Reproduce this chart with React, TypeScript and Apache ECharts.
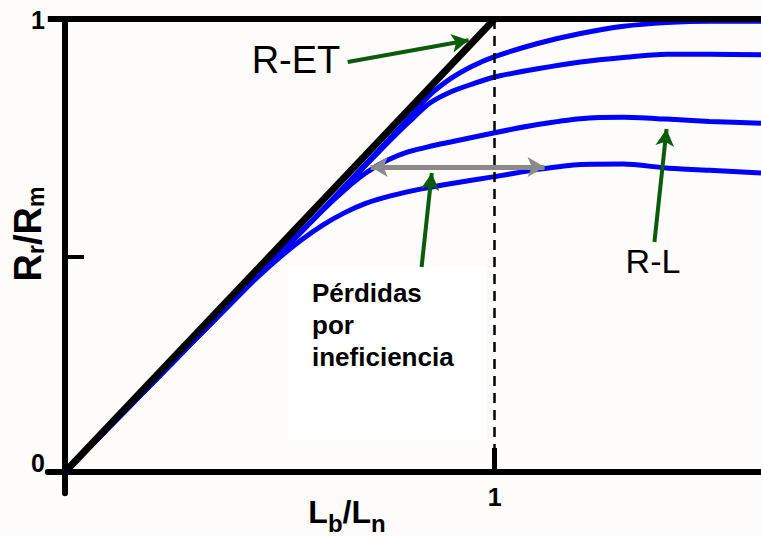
import { useEffect, useRef } from 'react';
import * as echarts from 'echarts';

const FONT = '"Liberation Sans", Arial, Helvetica, sans-serif';

// Axis extents (L_b/L_n on x, R_r/R_m on y)
const X_MIN = -0.04;
const X_MAX = 1.62;
const Y_MIN = -0.047;
const Y_MAX = 1;

// Tick positions and tick labels
const xTickValues = [1];
const xLabels: [number, string][] = [[1, '1']];
const yTickValues = [0.475];
const yLabels: [number, string][] = [[0, '0'], [1, '1']];

// R-ET: ideal response, rises linearly to 1 at L_b/L_n = 1
const retCurve: [number, number][] = [
  [0, 0],
  [1, 1],
];

// R-L curves, from highest to lowest
const rl1: [number, number][] = [
  [0, 0], [0.1, 0.0965], [0.2, 0.193], [0.3, 0.2895], [0.4, 0.386], [0.5, 0.4825],
  [0.6, 0.579], [0.7, 0.68], [0.75, 0.73], [0.8, 0.781], [0.85, 0.833], [0.9, 0.87],
  [0.95, 0.897], [1.0, 0.917], [1.1, 0.946], [1.2, 0.968], [1.3, 0.984], [1.4, 0.992],
  [1.5, 0.995], [1.62, 0.995],
];
const rl2: [number, number][] = [
  [0, 0], [0.1, 0.0965], [0.2, 0.193], [0.3, 0.2895], [0.4, 0.386], [0.5, 0.4825],
  [0.6, 0.579], [0.7, 0.677], [0.75, 0.726], [0.8, 0.772], [0.85, 0.815], [0.9, 0.84],
  [0.95, 0.857], [1.0, 0.872], [1.1, 0.89], [1.2, 0.905], [1.3, 0.915], [1.4, 0.922],
  [1.5, 0.922], [1.62, 0.921],
];
const rl3: [number, number][] = [
  [0, 0], [0.1, 0.0965], [0.2, 0.193], [0.3, 0.2895], [0.4, 0.386], [0.5, 0.482],
  [0.6, 0.578], [0.65, 0.622], [0.7, 0.66], [0.75, 0.688], [0.8, 0.707], [0.85, 0.719],
  [0.9, 0.729], [1.0, 0.749], [1.1, 0.767], [1.2, 0.78], [1.3, 0.783], [1.4, 0.779],
  [1.5, 0.774], [1.62, 0.77],
];
const rl4: [number, number][] = [
  [0, 0], [0.1, 0.0965], [0.2, 0.193], [0.3, 0.29], [0.4, 0.386], [0.45, 0.432],
  [0.5, 0.474], [0.55, 0.512], [0.6, 0.545], [0.65, 0.572], [0.7, 0.593], [0.76, 0.61],
  [0.83, 0.625], [0.9, 0.637], [1.0, 0.652], [1.1, 0.668], [1.2, 0.679], [1.3, 0.68],
  [1.4, 0.671], [1.5, 0.666], [1.62, 0.66],
];
const rlCurves = [rl1, rl2, rl3, rl4];

// Annotation arrows: [from, to] in data units
const arrowRET: [number, number][] = [[0.658, 0.905], [0.9395, 0.953]];
const arrowLoss: [number, number][] = [[0.83, 0.4525], [0.8537, 0.66]];
const arrowRL: [number, number][] = [[1.372, 0.5077], [1.4002, 0.757]];
const lossSpan: [number, number][] = [[0.7116, 0.6733], [1.1163, 0.6733]];

const GREEN = '#0a5c0a';
const GRAY = '#8a8a8a';
const BLUE = '#0000ff';

const App = () => {
  const ref = useRef<HTMLDivElement>(null);

  useEffect(() => {
    if (!ref.current) return;
    const chart = echarts.init(ref.current, null, { renderer: 'svg' });

    const greenArrow = (seg: [number, number][]) => [
      { coord: seg[0], symbol: 'none', lineStyle: { color: GREEN, width: 4, type: 'solid' } },
      { coord: seg[1], symbol: 'arrow', symbolSize: [14, 17] },
    ];

    const staticGraphic: any[] = [
      {
        id: 'box',
        type: 'rect',
        silent: true,
        z: 0,
        shape: { x: 288, y: 266, width: 199, height: 174 },
        style: { fill: '#ffffff' },
      },
      {
        id: 'ret',
        type: 'text',
        x: 296,
        y: 60,
        z: 10,
        style: {
          text: 'R-ET',
          fontSize: 38,
          fontFamily: FONT,
          fill: '#000',
          align: 'center',
          verticalAlign: 'middle',
        },
      },
      {
        id: 'rl',
        type: 'text',
        x: 653,
        y: 261,
        z: 10,
        style: {
          text: 'R-L',
          fontSize: 34,
          fontFamily: FONT,
          fill: '#000',
          align: 'center',
          verticalAlign: 'middle',
        },
      },
      {
        id: 'loss',
        type: 'text',
        x: 312,
        y: 277,
        z: 10,
        style: {
          text: 'Pérdidas\npor\nineficiencia',
          fontSize: 26,
          fontWeight: 'bold',
          lineHeight: 32,
          fontFamily: FONT,
          fill: '#000',
          align: 'left',
          verticalAlign: 'top',
        },
      },
      {
        id: 'ytitle',
        type: 'text',
        x: 28,
        y: 234,
        rotation: Math.PI / 2,
        z: 10,
        style: {
          text: '{R|R}{s|r}{R|/R}{s|m}',
          align: 'center',
          verticalAlign: 'middle',
          fill: '#000',
          rich: {
            R: { fontSize: 38, fontWeight: 'bold', fontFamily: FONT, lineHeight: 38, verticalAlign: 'top' },
            s: { fontSize: 23, fontWeight: 'bold', fontFamily: FONT, lineHeight: 23, verticalAlign: 'top', padding: [15, 0, 0, 0] },
          },
        },
      },
      {
        id: 'xtitle',
        type: 'text',
        x: 347,
        y: 512,
        z: 10,
        style: {
          text: '{L|L}{s|b}{L|/L}{s|n}',
          align: 'center',
          verticalAlign: 'middle',
          fill: '#000',
          rich: {
            L: { fontSize: 32, fontWeight: 'bold', fontFamily: FONT, lineHeight: 32, verticalAlign: 'top' },
            s: { fontSize: 24, fontWeight: 'bold', fontFamily: FONT, lineHeight: 24, verticalAlign: 'top', padding: [15, 0, 0, 0] },
          },
        },
      },
    ];

    const option: any = {
      animation: false,
      backgroundColor: '#fdfcfa',
      grid: { left: 47.8, top: 19, width: 713.8, height: 474.3 },
      xAxis: {
        type: 'value',
        min: X_MIN,
        max: X_MAX,
        axisLine: { onZero: true, lineStyle: { color: '#000', width: 6 } },
        axisTick: {
          customValues: xTickValues,
          inside: true,
          length: 24,
          lineStyle: { color: '#000', width: 5 },
        },
        axisLabel: { show: false },
        splitLine: { show: false },
      },
      yAxis: {
        type: 'value',
        min: Y_MIN,
        max: Y_MAX,
        axisLine: { onZero: true, lineStyle: { color: '#000', width: 6 } },
        axisTick: {
          customValues: yTickValues,
          inside: true,
          length: 19,
          lineStyle: { color: '#000', width: 4 },
        },
        axisLabel: { show: false },
        splitLine: { show: false },
      },
      series: [
        ...rlCurves.map((d, i) => ({
          type: 'line',
          name: 'R-L ' + (i + 1),
          data: d,
          smooth: 0.25,
          symbol: 'none',
          silent: true,
          z: 2,
          lineStyle: { color: BLUE, width: 5 },
        })),
        {
          type: 'line',
          name: 'R-ET',
          data: retCurve,
          symbol: 'none',
          silent: true,
          z: 3,
          lineStyle: { color: '#000', width: 7 },
          markLine: {
            silent: true,
            animation: false,
            symbol: ['none', 'none'],
            label: { show: false },
            emphasis: { disabled: true },
            lineStyle: { type: 'solid' },
            data: [
              { yAxis: 1, lineStyle: { color: '#000', width: 6, type: 'solid' } },
              [
                { coord: [1, 1], lineStyle: { color: '#000', width: 2.5, type: [10, 7] } },
                { coord: [1, 0] },
              ],
              greenArrow(arrowRET),
              greenArrow(arrowLoss),
              greenArrow(arrowRL),
              [
                {
                  coord: lossSpan[0],
                  symbol: 'arrow',
                  symbolSize: [15, 17],
                  lineStyle: { color: GRAY, width: 5, type: 'solid' },
                },
                { coord: lossSpan[1], symbol: 'arrow', symbolSize: [15, 17] },
              ],
            ],
          },
        },
      ],
      graphic: staticGraphic,
    };

    chart.setOption(option);

    // Tick labels placed at the axes' own pixel positions for each value
    const tickText = (id: string, x: number, y: number, text: string, align: string, vAlign: string) => ({
      id,
      type: 'text',
      x,
      y,
      z: 10,
      style: {
        text,
        fontSize: 25,
        fontWeight: 'bold',
        fontFamily: FONT,
        fill: '#000',
        align,
        verticalAlign: vAlign,
      },
    });
    const labelGraphic: any[] = [];
    yLabels.forEach(([v, t], i) => {
      const p = chart.convertToPixel({ gridIndex: 0 }, [0, v]) as number[];
      // the zero label sits just above the horizontal axis
      const dy = v === 0 ? -9 : 1;
      labelGraphic.push(tickText('yl' + i, p[0] - 20, p[1] + dy, t, 'right', 'middle'));
    });
    xLabels.forEach(([v, t], i) => {
      const p = chart.convertToPixel({ gridIndex: 0 }, [v, 0]) as number[];
      labelGraphic.push(tickText('xl' + i, p[0], p[1] + 12, t, 'center', 'top'));
    });
    option.graphic = [...staticGraphic, ...labelGraphic];
    chart.setOption(option, true);

    return () => chart.dispose();
  }, []);

  return (
    <div
      ref={ref}
      style={{ position: 'absolute', left: 0, top: 0, width: 761, height: 536 }}
    />
  );
};

export default App;
